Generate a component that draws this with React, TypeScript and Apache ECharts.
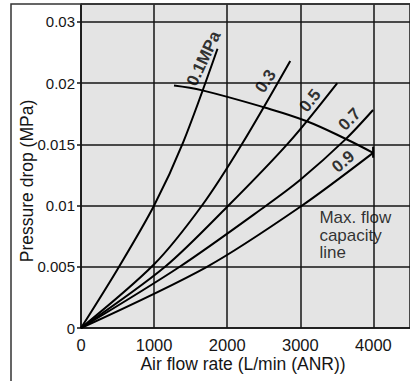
import React, { useEffect, useRef } from "react";
import * as echarts from "echarts";

// Air flow rate (L/min (ANR)) vs pressure drop (MPa) for each supply pressure
const flow01: number[][] = [[0, 0], [500, 0.0048], [1000, 0.01], [1400, 0.0152], [1867, 0.0228]];
const flow03: number[][] = [[0, 0], [1000, 0.0052], [1655, 0.01], [2200, 0.015], [2862, 0.0218]];
const flow05: number[][] = [[0, 0], [1150, 0.005], [2000, 0.0099], [2850, 0.0152], [3505, 0.02]];
const flow07: number[][] = [[0, 0], [1350, 0.005], [2535, 0.01], [3000, 0.0121], [3617, 0.0154], [3995, 0.0178]];
const flow09: number[][] = [[0, 0], [1723, 0.005], [3000, 0.0099], [3995, 0.0143]];
const maxFlowLine: number[][] = [[1272, 0.0198], [1660, 0.0194], [2512, 0.018], [3080, 0.0169], [3617, 0.01545], [3995, 0.0143]];
const maxFlowCap: number[][] = [[3995, 0.0148], [3995, 0.0139]];

const curveNames = ["0.1MPa", "0.3", "0.5", "0.7", "0.9"];
const curveLabelX = [1678, 2524, 3133, 3674, 3586];
const curveLabelY = [0.022, 0.02015, 0.01856, 0.01704, 0.01358];
const curveLabelAngle = [65, 57, 51, 46, 40];

const noteText = "Max. flow\ncapacity\nline";
const notePos = [3261, 0.0097];

const xTitle = "Air flow rate (L/min (ANR))";
const yTitle = "Pressure drop (MPa)";

const xTickInterval = 1000;
const yTickInterval = 0.005;

const FONT = "'Liberation Sans', Arial, Helvetica, sans-serif";
const INK = "#151515";

export default function App() {
  const ref = useRef<HTMLDivElement>(null);
  useEffect(() => {
    if (!ref.current) return;
    const chart = echarts.init(ref.current, undefined, { renderer: "svg" });
    const lineSeries = (data: number[][], name: string) => ({
      type: "line",
      name,
      data,
      smooth: 0.3,
      symbol: "none",
      lineStyle: { color: "#000", width: 2 },
      z: 3,
    });
    chart.setOption({
      animation: false,
      backgroundColor: "#fff",
      graphic: [
        {
          type: "rect",
          shape: { x: 11, y: 4, width: 430, height: 420 },
          style: { fill: "none", stroke: "#333", lineWidth: 1.5 },
          z: 10,
          silent: true,
        },
        {
          type: "text",
          x: 27,
          y: 181,
          rotation: Math.PI / 2,
          style: {
            text: yTitle,
            fontFamily: FONT,
            fontSize: 17.5,
            fill: INK,
            align: "center",
            verticalAlign: "middle",
          },
          z: 10,
        },
      ],
      grid: {
        left: 81,
        right: -4,
        top: 4,
        bottom: 53,
        show: true,
        backgroundColor: "#e4e4e4",
        borderWidth: 0,
      },
      xAxis: {
        type: "value",
        min: 0,
        max: 4500,
        interval: xTickInterval,
        name: xTitle,
        nameLocation: "middle",
        nameGap: 27,
        nameMoveOverlap: false,
        nameTextStyle: { fontFamily: FONT, fontSize: 17.5, color: INK, padding: [0, 5, 0, 0] },
        axisLine: { show: true, lineStyle: { color: INK, width: 1.6 } },
        axisTick: { show: false },
        axisLabel: {
          fontFamily: FONT,
          fontSize: 16.5,
          color: INK,
          margin: 8,
          showMaxLabel: false,
          formatter: (v: number) => String(v),
        },
        splitLine: { show: true, lineStyle: { color: INK, width: 1.5 } },
      },
      yAxis: {
        type: "value",
        min: 0,
        max: 0.02645,
        interval: yTickInterval,
        axisLine: { show: true, lineStyle: { color: INK, width: 1.6 } },
        axisTick: { show: true, length: 4, lineStyle: { color: INK, width: 1.5 } },
        axisLabel: {
          fontFamily: FONT,
          fontSize: 15,
          color: INK,
          margin: 6,
          showMaxLabel: false,
          formatter: (v: number) => {
            if (Math.abs(v - 0.025) < 1e-9) return "0.03";
            return String(parseFloat(v.toFixed(4)));
          },
        },
        splitLine: { show: true, lineStyle: { color: INK, width: 1.5 } },
      },
      series: [
        lineSeries(flow01, "0.1MPa"),
        lineSeries(flow03, "0.3"),
        lineSeries(flow05, "0.5"),
        lineSeries(flow07, "0.7"),
        lineSeries(flow09, "0.9"),
        { ...lineSeries(maxFlowLine, "Max. flow capacity line"), smooth: 0.4 },
        { ...lineSeries(maxFlowCap, "cap"), smooth: false },
        {
          type: "scatter",
          name: "curve labels",
          symbolSize: 1,
          itemStyle: { color: "rgba(0,0,0,0)" },
          z: 5,
          data: curveLabelX.map((x, i) => ({
            value: [x, curveLabelY[i]],
            label: { formatter: curveNames[i], rotate: curveLabelAngle[i] },
          })),
          label: {
            show: true,
            position: "inside",
            align: "center",
            verticalAlign: "middle",
            fontFamily: FONT,
            fontSize: 17,
            fontWeight: "bold",
            color: "#000",
          },
        },
        {
          type: "scatter",
          name: "note",
          symbolSize: 1,
          itemStyle: { color: "rgba(0,0,0,0)" },
          z: 5,
          data: [{ value: notePos }],
          label: {
            show: true,
            position: "inside",
            align: "left",
            verticalAlign: "top",
            formatter: noteText,
            fontFamily: FONT,
            fontSize: 17,
            lineHeight: 17.5,
            color: "#000",
          },
        },
      ],
    });
    return () => chart.dispose();
  }, []);
  return (
    <div
      ref={ref}
      style={{ position: "fixed", left: 0, top: 0, width: 410, height: 381 }}
    />
  );
}
